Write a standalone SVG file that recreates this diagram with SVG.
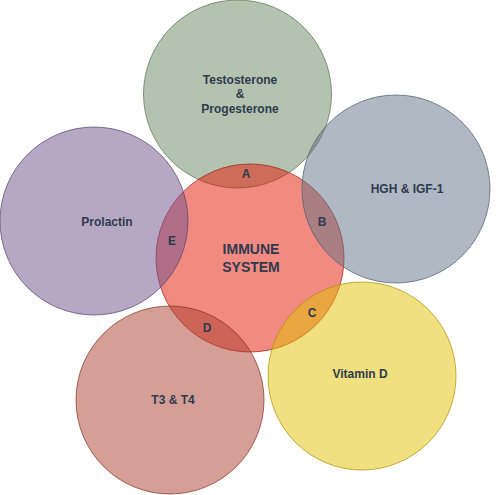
<svg xmlns="http://www.w3.org/2000/svg" width="500" height="495" viewBox="0 0 500 495">
  <style>
    .c { fill-opacity: 0.5; stroke-width: 1; stroke-opacity: 0.7; }
    .t { font-family: "Liberation Sans", Arial, sans-serif; font-weight: bold; font-size: 12px; fill: #2e3b4e; text-anchor: middle; }
    .big { font-size: 14px; }
  </style>
  <rect width="500" height="495" fill="#ffffff"/>
  <g id="testosterone">
    <circle class="c" cx="237.5" cy="94" r="94" fill="#698761" stroke="#55704e"/>
    <text class="t" x="240" y="84">Testosterone</text>
    <text class="t" x="240" y="98">&amp;</text>
    <text class="t" x="240" y="113">Progesterone</text>
  </g>
  <g id="immune">
    <circle class="c" cx="250" cy="258" r="94" fill="#e31501" stroke="#a01a10"/>
  </g>
  <g id="hgh">
    <circle class="c" cx="396" cy="189" r="94" fill="#617387" stroke="#4a5a6a"/>
    <text class="t" x="407" y="193">HGH &amp; IGF-1</text>
  </g>
  <g id="prolactin">
    <circle class="c" cx="94" cy="221" r="94" fill="#6d5189" stroke="#52406a"/>
    <text class="t" x="107" y="226">Prolactin</text>
  </g>
  <g id="t3t4">
    <circle class="c" cx="170" cy="400" r="94" fill="#ab3d2d" stroke="#803022"/>
    <text class="t" x="173" y="404">T3 &amp; T4</text>
  </g>
  <g id="vitamind">
    <circle class="c" cx="362" cy="376" r="94" fill="#e1c100" stroke="#a89000"/>
    <text class="t" x="360" y="378">Vitamin D</text>
  </g>
  <g id="labels">
    <text class="t big" x="251" y="254">IMMUNE</text>
    <text class="t big" x="251" y="272">SYSTEM</text>
    <text class="t" x="246" y="178">A</text>
    <text class="t" x="322" y="226">B</text>
    <text class="t" x="312" y="317">C</text>
    <text class="t" x="207" y="332">D</text>
    <text class="t" x="172" y="245">E</text>
  </g>
  <g id="connectors"></g>
</svg>
